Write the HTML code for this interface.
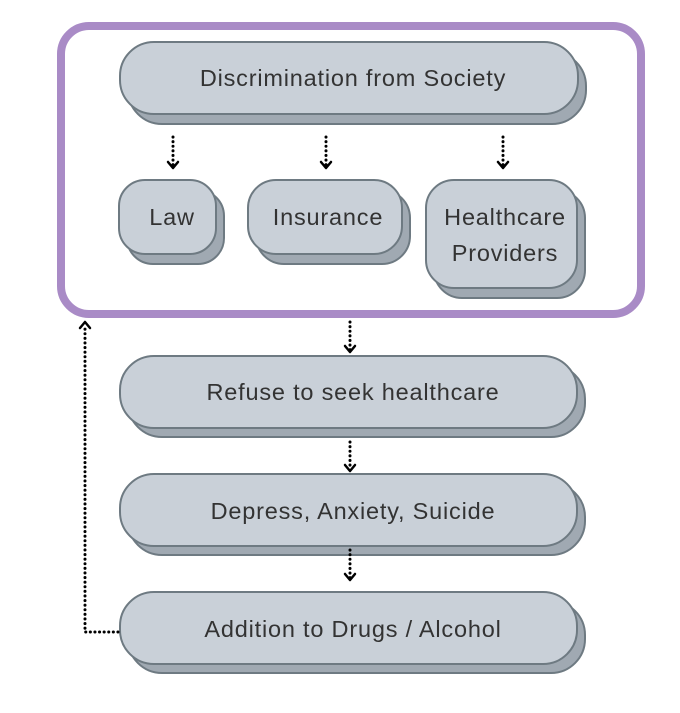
<!DOCTYPE html>
<html><head><style>body{margin:0;background:#fff}</style></head><body>
<svg width="680" height="708" viewBox="0 0 680 708" xmlns="http://www.w3.org/2000/svg" font-family="Liberation Sans, sans-serif">
<rect x="61" y="26" width="580" height="288" rx="28" fill="#fff" stroke="#a98bc6" stroke-width="8"/>
<g stroke="#6e7a82" stroke-width="2">
<rect x="128" y="52" width="458" height="72" rx="34" fill="#a0a9b2"/>
<rect x="120" y="42" width="458" height="72" rx="34" fill="#c9d0d8"/>
<rect x="127" y="190" width="97" height="74" rx="26" fill="#a0a9b2"/>
<rect x="119" y="180" width="97" height="74" rx="26" fill="#c9d0d8"/>
<rect x="256" y="190" width="154" height="74" rx="28" fill="#a0a9b2"/>
<rect x="248" y="180" width="154" height="74" rx="28" fill="#c9d0d8"/>
<rect x="434" y="190" width="151" height="108" rx="28" fill="#a0a9b2"/>
<rect x="426" y="180" width="151" height="108" rx="28" fill="#c9d0d8"/>
<rect x="128" y="365" width="457" height="72" rx="34" fill="#a0a9b2"/>
<rect x="120" y="356" width="457" height="72" rx="34" fill="#c9d0d8"/>
<rect x="128" y="483" width="457" height="72" rx="34" fill="#a0a9b2"/>
<rect x="120" y="474" width="457" height="72" rx="34" fill="#c9d0d8"/>
<rect x="128" y="601" width="457" height="72" rx="34" fill="#a0a9b2"/>
<rect x="120" y="592" width="457" height="72" rx="34" fill="#c9d0d8"/>
</g>
<g stroke="#000" stroke-width="3" stroke-dasharray="0.1,4.5" stroke-linecap="round" fill="none">
<path d="M173,137 V166"/>
<path d="M326,137 V166"/>
<path d="M503,137 V166"/>
<path d="M350,322 V350"/>
<path d="M350,442 V469"/>
<path d="M350,550 V578"/>
<path d="M118,632 H85 V328"/>
</g>
<g stroke="#000" stroke-width="2.5" fill="none" stroke-linecap="round" stroke-linejoin="round">
<path d="M168,162 L173,168 L178,162"/>
<path d="M321,162 L326,168 L331,162"/>
<path d="M498,162 L503,168 L508,162"/>
<path d="M345,346 L350,352 L355,346"/>
<path d="M345,465 L350,471 L355,465"/>
<path d="M345,574 L350,580 L355,574"/>
<path d="M80,328 L85,322 L90,328"/>
</g>
<g font-size="23.5" fill="#333" text-anchor="middle" letter-spacing="0.8">
<text x="353" y="86">Discrimination from Society</text>
<text x="172" y="225">Law</text>
<text x="328" y="225">Insurance</text>
<text x="505" y="225">Healthcare</text>
<text x="505" y="261">Providers</text>
<text x="353" y="400">Refuse to seek healthcare</text>
<text x="353" y="519">Depress, Anxiety, Suicide</text>
<text x="353" y="637">Addition to Drugs / Alcohol</text>
</g>
</svg>
</body></html>
